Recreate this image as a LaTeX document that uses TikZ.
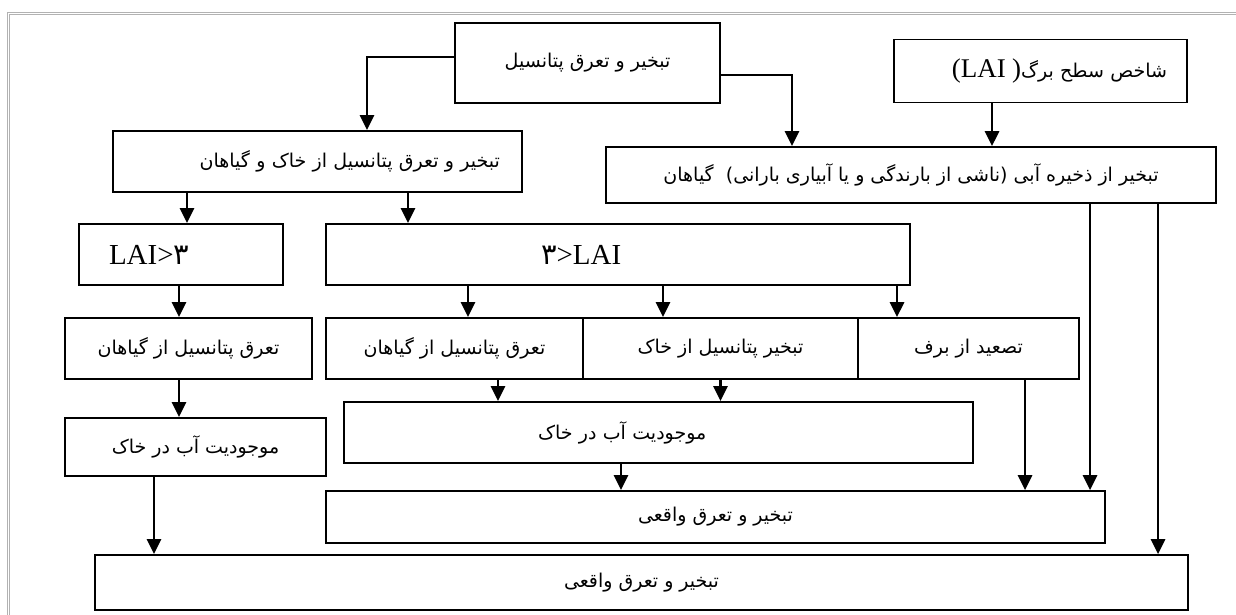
\documentclass[tikz,border=0pt]{standalone}
\usepackage{fontspec}
\setmainfont{Liberation Serif}
\newfontfamily\arabicfont[Script=Arabic]{DejaVu Sans}
\TeXXeTstate=1
\usetikzlibrary{arrows.meta}
\newcommand{\fa}[1]{{\arabicfont\beginR #1\endR}}

\begin{document}
\begin{tikzpicture}[x=1pt, y=-1pt,
	box/.style={draw, line width=1.7pt, inner sep=0pt, font=\fontsize{19}{23}\selectfont},
	lai/.style={font=\fontsize{29}{33}\selectfont},
	flow/.style={-{Triangle[length=15pt, width=14pt]}, line width=2.8pt}]
	\useasboundingbox (0,0) rectangle (1236,615);
	\draw[gray!60, double, double distance=1.2pt, line width=0.6pt] (8.5,615) -- (8.5,13.5) -- (1236,13.5);
	\node[box, minimum width=265pt, minimum height=80pt] (tp) at (587.5,63) {\fa{تبخیر و تعرق پتانسیل}};
	\node[box, minimum width=293pt, minimum height=63pt, text width=253pt, align=right] (lai) at (1040.5,71) {{\fontsize{27}{31}\selectfont (LAI )}\fa{شاخص سطح برگ}};
	\node[box, minimum width=409pt, minimum height=61pt, text width=365pt, align=right] (ps) at (317.5,161.5) {\fa{تبخیر و تعرق پتانسیل از خاک و گیاهان}};
	\node[box, minimum width=610pt, minimum height=56pt] (ic) at (911,175) {\fa{تبخیر از ذخیره آبی (ناشی از بارندگی و یا آبیاری بارانی)\ \ گیاهان}};
	\node[box, lai, minimum width=204pt, minimum height=61pt, text width=144pt, align=left] (lgt) at (181,254.5) {LAI>{\arabicfont ٣}};
	\node[box, lai, minimum width=584pt, minimum height=61pt, text width=154pt, align=left] (llt) at (618,254.5) {{\arabicfont ٣}>LAI};
	\node[box, minimum width=247pt, minimum height=61pt] (lt) at (188.5,348.5) {\fa{تعرق پتانسیل از گیاهان}};
	\node[box, minimum width=257pt, minimum height=61pt] (mt) at (454.5,348.5) {\fa{تعرق پتانسیل از گیاهان}};
	\node[box, minimum width=275pt, minimum height=61pt] (ms) at (720.5,348.5) {\fa{تبخیر پتانسیل از خاک}};
	\node[box, minimum width=221pt, minimum height=61pt] (sn) at (968.5,348.5) {\fa{تصعید از برف}};
	\node[box, minimum width=261pt, minimum height=58pt] (lw) at (195.5,447) {\fa{موجودیت آب در خاک}};
	\node[box, minimum width=629pt, minimum height=61pt, text width=241pt, align=left] (mw) at (658.5,432.5) {\fa{موجودیت آب در خاک}};
	\node[box, minimum width=779pt, minimum height=52pt] (ae1) at (715.5,517) {\fa{تبخیر و تعرق واقعی}};
	\node[box, minimum width=1093pt, minimum height=55pt] (ae2) at (641.5,582.5) {\fa{تبخیر و تعرق واقعی}};
	% connectors
	\draw[flow] ([yshift=6pt]tp.west) -| ([xshift=49.5pt]ps.north);
	\draw[flow] ([yshift=-12pt]tp.east) -| ([xshift=-119pt]ic.north);
	\draw[flow] ([xshift=-48.5pt]lai.south) -- ([xshift=-48.5pt]lai.south |- ic.north);
	\draw[flow] ([xshift=-130.5pt]ps.south) -- ([xshift=-130.5pt]ps.south |- lgt.north);
	\draw[flow] ([xshift=90.5pt]ps.south) -- ([xshift=90.5pt]ps.south |- llt.north);
	\draw[flow] ([xshift=-2pt]lgt.south) -- ([xshift=-2pt]lgt.south |- lt.north);
	\draw[flow] ([xshift=-150pt]llt.south) -- ([xshift=-150pt]llt.south |- mt.north);
	\draw[flow] ([xshift=45pt]llt.south) -- ([xshift=45pt]llt.south |- ms.north);
	\draw[flow] ([xshift=279pt]llt.south) -- ([xshift=279pt]llt.south |- sn.north);
	\draw[flow] ([xshift=-9.5pt]lt.south) -- ([xshift=-9.5pt]lt.south |- lw.north);
	\draw[flow] ([xshift=43.5pt]mt.south) -- ([xshift=43.5pt]mt.south |- mw.north);
	\draw[flow] (ms.south) -- (ms.south |- mw.north);
	\draw[flow] ([xshift=-37.5pt]mw.south) -- ([xshift=-37.5pt]mw.south |- ae1.north);
	\draw[flow] ([xshift=56.5pt]sn.south) -- ([xshift=56.5pt]sn.south |- ae1.north);
	\draw[flow] ([xshift=179pt]ic.south) -- ([xshift=179pt]ic.south |- ae1.north);
	\draw[flow] ([xshift=247pt]ic.south) -- ([xshift=247pt]ic.south |- ae2.north);
	\draw[flow] ([xshift=-41.5pt]lw.south) -- ([xshift=-41.5pt]lw.south |- ae2.north);
\end{tikzpicture}
\end{document}
